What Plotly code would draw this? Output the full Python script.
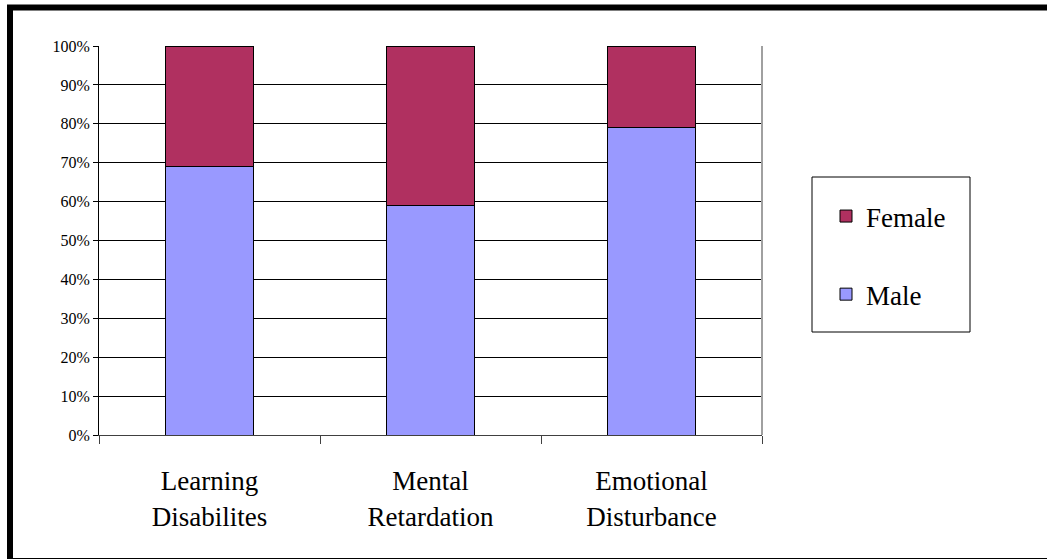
import plotly.graph_objects as go

categories = ["Learning<br>Disabilites", "Mental<br>Retardation", "Emotional<br>Disturbance"]
male = [69, 59, 79]
female = [31, 41, 21]

serif = "Liberation Serif"

fig = go.Figure()
fig.add_trace(go.Bar(
    x=categories, y=male, name="Male",
    marker=dict(color="#9999FF", line=dict(color="#000000", width=1)),
    legendgroup="m", legendrank=2,
))
fig.add_trace(go.Bar(
    x=categories, y=female, name="Female",
    marker=dict(color="#B03060", line=dict(color="#000000", width=1)),
    legendgroup="f", legendrank=1,
))

# plot area pixel box: x 99..762, y 46..435
def px_x(x):
    return (x - 99) / 663

def px_y(y):
    return (435 - y) / 389

fig.update_layout(
    width=1047, height=560,
    margin=dict(l=99, r=285, t=46, b=125),
    barmode="stack", bargap=0.6,
    paper_bgcolor="white", plot_bgcolor="white",
    font=dict(family=serif, color="#000000"),
    showlegend=True,
    legend=dict(
        x=px_x(826), y=px_y(192), xanchor="left", yanchor="top",
        traceorder="grouped", tracegroupgap=40,
        font=dict(size=27, family=serif, color="#000000"),
        bgcolor="rgba(0,0,0,0)", borderwidth=0,
    ),
    xaxis=dict(
        showline=True, linecolor="#404040", linewidth=1,
        ticks="outside", tickson="boundaries", ticklen=8, tickcolor="#404040",
        tickfont=dict(size=27, family=serif), showgrid=False,
        ticklabelstandoff=22,
    ),
    yaxis=dict(
        range=[0, 100], dtick=10, ticksuffix="%",
        showline=True, linecolor="#000000", linewidth=1,
        ticks="outside", ticklen=5, tickcolor="#000000",
        showgrid=True, gridcolor="#000000", gridwidth=1,
        tickfont=dict(size=16, family=serif), zeroline=False,
    ),
    shapes=[
        # right edge of plot area
        dict(type="line", xref="paper", yref="paper", x0=1, x1=1, y0=0, y1=1,
             line=dict(color="#A0A0A0", width=2)),
        # legend box
        dict(type="rect", xref="paper", yref="paper",
             x0=px_x(812), x1=px_x(970), y0=px_y(332), y1=px_y(177),
             line=dict(color="#000000", width=1), layer="below"),
        # outer frame
        dict(type="line", xref="paper", yref="paper",
             x0=px_x(7), x1=px_x(1047), y0=px_y(7.5), y1=px_y(7.5),
             line=dict(color="#000000", width=6)),
        dict(type="line", xref="paper", yref="paper",
             x0=px_x(10), x1=px_x(10), y0=px_y(559), y1=px_y(5),
             line=dict(color="#000000", width=6)),
        dict(type="line", xref="paper", yref="paper",
             x0=px_x(10), x1=px_x(1047), y0=px_y(558.5), y1=px_y(558.5),
             line=dict(color="#000000", width=1)),
    ],
)

fig.write_html("out.html", config={"displayModeBar": False},
               post_script="document.body.style.margin='0px';")
